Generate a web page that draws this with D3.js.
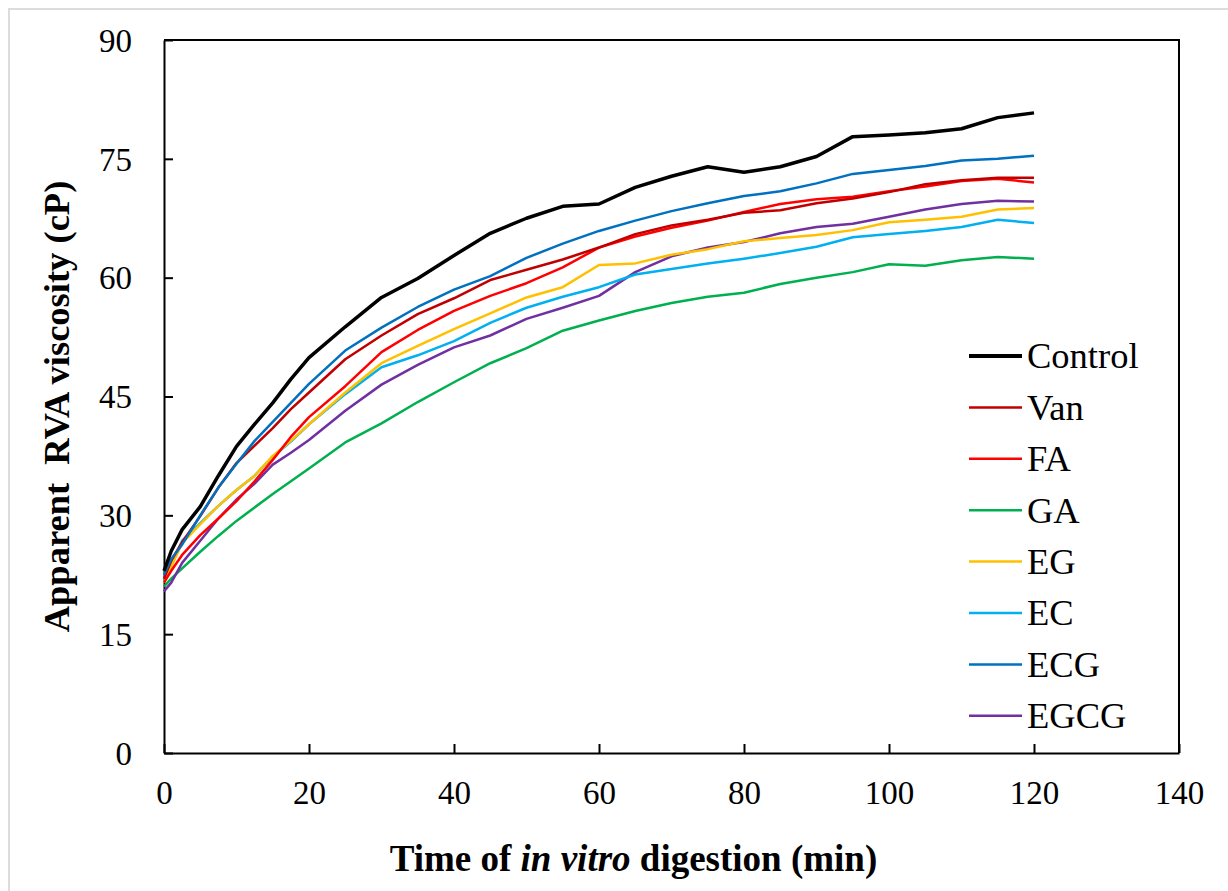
<!DOCTYPE html>
<html>
<head>
<meta charset="utf-8">
<script src="https://cdn.jsdelivr.net/npm/d3@7"></script>
<style>
  body { margin: 0; background: #fff; }
  svg { display: block; }
</style>
</head>
<body>
<div id="chart"></div>
<script>
// sampling times (min)
const times = [0, 1, 2.5, 5, 7.5, 10, 12.5, 15, 17.5, 20, 25, 30, 35, 40, 45, 50, 55, 60, 65, 70, 75, 80, 85, 90, 95, 100, 105, 110, 115, 120]

// apparent RVA viscosity (cP)
const control = [23.0, 25.5, 28.2, 31.1, 35.0, 38.7, 41.5, 44.2, 47.2, 49.9, 53.8, 57.5, 59.9, 62.8, 65.6, 67.5, 69.0, 69.3, 71.4, 72.8, 74.0, 73.3, 74.0, 75.3, 77.8, 78.0, 78.3, 78.8, 80.2, 80.8]
const van = [22.0, 24.3, 26.6, 29.9, 33.5, 36.6, 38.8, 41.0, 43.4, 45.5, 49.7, 52.7, 55.4, 57.4, 59.7, 61.0, 62.3, 63.8, 65.5, 66.6, 67.3, 68.2, 68.5, 69.4, 70.0, 70.8, 71.8, 72.3, 72.6, 72.6]
const fa = [21.5, 23.0, 25.0, 27.5, 29.6, 31.8, 34.3, 37.0, 39.9, 42.4, 46.3, 50.6, 53.4, 55.8, 57.7, 59.3, 61.3, 63.8, 65.2, 66.3, 67.2, 68.3, 69.3, 69.9, 70.2, 70.9, 71.5, 72.2, 72.5, 72.0]
const ga = [21.0, 22.0, 23.3, 25.4, 27.4, 29.3, 31.0, 32.7, 34.3, 35.9, 39.2, 41.6, 44.3, 46.8, 49.2, 51.1, 53.3, 54.6, 55.8, 56.8, 57.6, 58.1, 59.2, 60.0, 60.7, 61.7, 61.5, 62.2, 62.6, 62.4]
const eg = [21.5, 23.5, 26.5, 28.9, 31.2, 33.2, 35.0, 37.5, 39.4, 41.5, 45.5, 49.2, 51.4, 53.5, 55.5, 57.5, 58.8, 61.6, 61.8, 62.9, 63.6, 64.6, 65.0, 65.4, 66.0, 67.0, 67.3, 67.7, 68.6, 68.8]
const ec = [21.8, 23.8, 26.8, 29.0, 31.2, 33.2, 35.0, 37.4, 39.3, 41.5, 45.3, 48.7, 50.2, 52.0, 54.3, 56.2, 57.6, 58.8, 60.4, 61.1, 61.8, 62.4, 63.1, 63.9, 65.1, 65.5, 65.9, 66.4, 67.3, 66.9]
const ecg = [22.5, 24.5, 26.3, 30.0, 33.5, 36.5, 39.4, 41.8, 44.2, 46.6, 50.8, 53.7, 56.3, 58.5, 60.2, 62.5, 64.3, 65.9, 67.2, 68.4, 69.4, 70.3, 70.9, 71.9, 73.1, 73.6, 74.1, 74.8, 75.0, 75.4]
const egcg = [20.4, 21.5, 24.0, 26.8, 29.6, 32.0, 34.0, 36.4, 37.9, 39.5, 43.2, 46.5, 49.0, 51.2, 52.7, 54.8, 56.2, 57.7, 60.7, 62.7, 63.8, 64.5, 65.6, 66.4, 66.8, 67.7, 68.6, 69.3, 69.7, 69.6]

const seriesNames = ['Control', 'Van', 'FA', 'GA', 'EG', 'EC', 'ECG', 'EGCG']
const seriesValues = [control, van, fa, ga, eg, ec, ecg, egcg]
const seriesColors = ['#000000', '#C00000', '#FF0000', '#00B050', '#FFC000', '#00B0F0', '#0070C0', '#7030A0']

const xTicks = [0, 20, 40, 60, 80, 100, 120, 140]
const yTicks = [0, 15, 30, 45, 60, 75, 90]

const width = 1228
const height = 891
const margin = { top: 40, right: 49, bottom: 138, left: 164 }
const serif = '"Times New Roman", "Liberation Serif", Tinos, "DejaVu Serif", serif'

const svg = d3.select('#chart')
  .append('svg')
  .attr('width', width)
  .attr('height', height)
  .attr('font-family', serif)

// faint frame of the original image
svg.append('path')
  .attr('d', `M9,${height} V9 H${width}`)
  .attr('fill', 'none')
  .attr('stroke', '#dcdcdc')
  .attr('stroke-width', 2)

const xScale = d3.scaleLinear()
  .domain([0, 140])
  .range([margin.left, width - margin.right])

const yScale = d3.scaleLinear()
  .domain([0, 90])
  .range([height - margin.bottom, margin.top])

// plot frame (top & right)
svg.append('path')
  .attr('d', `M${xScale(0)},${yScale(90)} H${xScale(140)} V${yScale(0)}`)
  .attr('fill', 'none')
  .attr('stroke', 'black')
  .attr('stroke-width', 2)

const xAxis = d3.axisBottom(xScale)
  .tickValues(xTicks)
  .tickSize(-9)
  .tickSizeOuter(0)
  .tickPadding(28)

const yAxis = d3.axisLeft(yScale)
  .tickValues(yTicks)
  .tickSize(-9)
  .tickSizeOuter(0)
  .tickPadding(32)

const gx = svg.append('g')
  .attr('class', 'x-axis')
  .attr('transform', `translate(0,${yScale(0)})`)
  .call(xAxis)

const gy = svg.append('g')
  .attr('class', 'y-axis')
  .attr('transform', `translate(${xScale(0)},0)`)
  .call(yAxis)

svg.selectAll('.x-axis, .y-axis')
  .attr('font-family', serif)
  .attr('font-size', 33)

svg.selectAll('.x-axis, .y-axis').selectAll('path, line')
  .attr('stroke', 'black')
  .attr('stroke-width', 2)

svg.selectAll('.x-axis, .y-axis').selectAll('text')
  .attr('fill', 'black')

gx.selectAll('text').attr('dy', '0.71em')
gy.selectAll('text').attr('dy', '0.34em')

// axis titles
svg.append('text')
  .attr('x', (xScale(0) + xScale(140)) / 2 - 38)
  .attr('y', 871)
  .attr('text-anchor', 'middle')
  .attr('font-family', serif)
  .attr('font-size', 37)
  .attr('font-weight', 'bold')
  .call(t => {
    t.append('tspan').text('Time of ')
    t.append('tspan').attr('font-style', 'italic').text('in vitro')
    t.append('tspan').text(' digestion (min)')
  })

svg.append('text')
  .attr('transform', `translate(69,${(yScale(0) + yScale(90)) / 2 + 10}) rotate(-90)`)
  .attr('text-anchor', 'middle')
  .attr('font-family', serif)
  .attr('font-size', 36.5)
  .attr('font-weight', 'bold')
  .style('white-space', 'pre')
  .text('Apparent  RVA viscosity (cP)')

// lines
const line = d3.line()
  .x((d, i) => xScale(times[i]))
  .y(d => yScale(d))

const order = [3, 7, 5, 4, 2, 1, 6, 0]
order.forEach(k => {
  svg.append('path')
    .datum(seriesValues[k])
    .attr('fill', 'none')
    .attr('stroke', seriesColors[k])
    .attr('stroke-width', k === 0 ? 3.5 : 2.5)
    .attr('stroke-linejoin', 'round')
    .attr('d', line)
})

// legend
const legend = svg.append('g')
  .attr('transform', 'translate(969,356)')

seriesNames.forEach((name, i) => {
  const row = legend.append('g')
    .attr('transform', `translate(0,${i * 51.4})`)
  row.append('line')
    .attr('x1', 0)
    .attr('x2', 53)
    .attr('stroke', seriesColors[i])
    .attr('stroke-width', i === 0 ? 4 : 2.5)
  row.append('text')
    .attr('x', 58)
    .attr('dy', '0.34em')
    .attr('font-family', serif)
    .attr('font-size', 36.5)
    .text(name)
})
</script>
</body>
</html>
